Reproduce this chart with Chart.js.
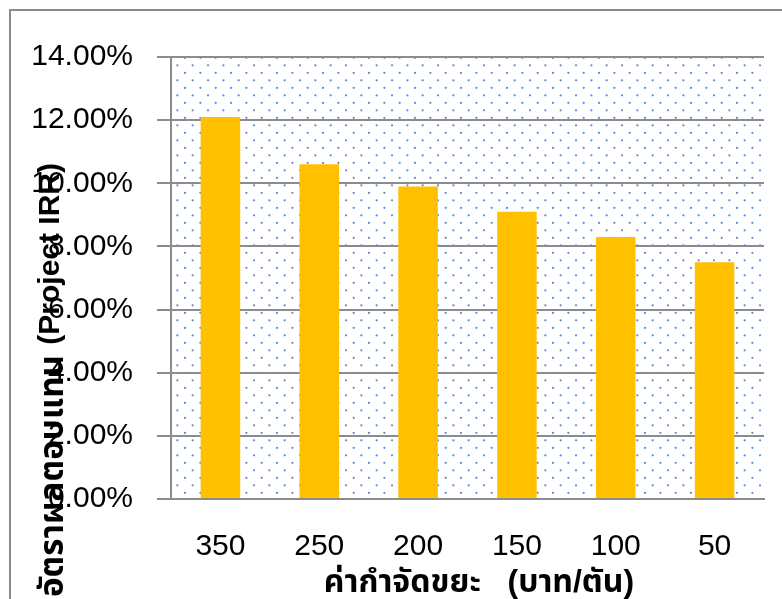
<!DOCTYPE html>
<html>
<head>
<meta charset="utf-8">
<script src="https://cdn.jsdelivr.net/npm/chart.js@4.4.1/dist/chart.umd.min.js"></script>
<style>
  html, body { margin: 0; padding: 0; background: #fff; }
  #wrap { width: 782px; height: 599px; }
</style>
</head>
<body>
<div id="wrap"><canvas id="c" width="782" height="599"></canvas></div>
<script>
// Disposal fee (baht/ton) and resulting project IRR (%)
const categories = ['350', '250', '200', '150', '100', '50'];
const irrValues = [12.1, 10.6, 9.9, 9.1, 8.3, 7.5];
const yTicks = [0, 2, 4, 6, 8, 10, 12, 14];

const xTitle = 'ค่ากำจัดขยะ   (บาท/ตัน)';
const yTitleThai = 'อัตราผลตอบแทน';
const yTitleEn = '(Project IRR)';

const FONT = '"Liberation Sans", Arial, "Noto Sans Thai", "Noto Sans", sans-serif';
const GRID = '#8c8c8c';

// dotted fill for the plot area
function makeDotPattern(ctx) {
  const pw = 46, ph = 15;
  const off = document.createElement('canvas');
  off.width = pw; off.height = ph;
  const p = off.getContext('2d');
  p.fillStyle = '#ffffff';
  p.fillRect(0, 0, pw, ph);
  p.fillStyle = '#5b8fd6';
  const rows = [
    { y: 5.3, xs: [8.7, 24.03, 39.37] },
    { y: 12.8, xs: [16.37, 31.7, 1.03] }
  ];
  rows.forEach(r => r.xs.forEach(x => {
    for (const dx of [-pw, 0, pw]) for (const dy of [-ph, 0, ph]) {
      p.beginPath();
      p.arc(x + dx, r.y + dy, 1.15, 0, Math.PI * 2);
      p.fill();
    }
  }));
  return ctx.createPattern(off, 'repeat');
}

// size a title string so that it spans a given length
function fitFont(ctx, text, targetWidth, base) {
  ctx.font = 'bold ' + base + 'px ' + FONT;
  const w = ctx.measureText(text).width;
  const size = base * targetWidth / w;
  return 'bold ' + size.toFixed(1) + 'px ' + FONT;
}

const decor = {
  id: 'decor',
  beforeDraw(chart) {
    const { ctx, chartArea: a, width, height } = chart;
    ctx.save();
    ctx.fillStyle = '#fff';
    ctx.fillRect(0, 0, width, height);
    ctx.fillStyle = makeDotPattern(ctx);
    ctx.fillRect(a.left, a.top, a.right - a.left, a.bottom - a.top);
    // outer frame (top and left edges fall inside the canvas)
    ctx.strokeStyle = GRID;
    ctx.lineWidth = 2;
    ctx.beginPath();
    ctx.moveTo(10, height + 5);
    ctx.lineTo(10, 10);
    ctx.lineTo(width + 5, 10);
    ctx.stroke();
    ctx.restore();
  },
  afterDraw(chart) {
    const { ctx } = chart;
    ctx.save();
    ctx.fillStyle = '#000';
    ctx.textBaseline = 'alphabetic';
    ctx.textAlign = 'center';
    ctx.font = fitFont(ctx, xTitle, 310, 30);
    ctx.fillText(xTitle, 479, 592);

    // vertical axis title, read bottom to top
    ctx.save();
    ctx.translate(59, 163);
    ctx.rotate(-Math.PI / 2);
    ctx.textAlign = 'right';
    ctx.font = 'bold 30px ' + FONT;
    ctx.fillText(yTitleEn, 0, 0);
    ctx.restore();

    ctx.save();
    ctx.translate(63, 355);
    ctx.rotate(-Math.PI / 2);
    ctx.textAlign = 'right';
    ctx.font = fitFont(ctx, yTitleThai, 242, 30);
    ctx.fillText(yTitleThai, 0, 0);
    ctx.restore();

    ctx.restore();
  }
};

new Chart(document.getElementById('c'), {
  type: 'bar',
  data: {
    labels: categories,
    datasets: [{
      data: irrValues,
      backgroundColor: '#FFC000',
      borderWidth: 0,
      barPercentage: 0.4,
      categoryPercentage: 1.0
    }]
  },
  options: {
    responsive: false,
    animation: false,
    devicePixelRatio: 1,
    layout: { padding: { left: 0, top: 57, right: 18, bottom: 0 } },
    plugins: { legend: { display: false }, tooltip: { enabled: false } },
    scales: {
      x: {
        grid: { display: false, drawTicks: false },
        border: { display: true, color: GRID, width: 2 },
        ticks: { color: '#000', font: { size: 30, family: FONT }, padding: 30, maxRotation: 0 },
        afterFit(s) { s.height = 100; }
      },
      y: {
        min: 0, max: 14,
        afterBuildTicks(s) { s.ticks = yTicks.map(v => ({ value: v })); },
        grid: { color: GRID, lineWidth: 2, tickLength: 14, drawTicks: true },
        border: { display: true, color: GRID, width: 2 },
        ticks: {
          color: '#000',
          font: { size: 30, family: FONT },
          padding: 24,
          callback: v => v.toFixed(2) + '%'
        },
        afterFit(s) { s.width = 171; }
      }
    }
  },
  plugins: [decor]
});
</script>
</body>
</html>
